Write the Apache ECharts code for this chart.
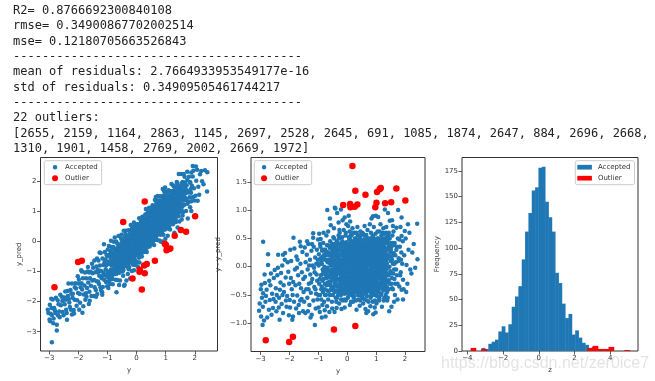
<!DOCTYPE html>
<html><head><meta charset="utf-8">
<script src="https://cdn.jsdelivr.net/npm/echarts@6/dist/echarts.min.js"></script>
<style>html,body{margin:0;padding:0;background:#fff}#c{width:655px;height:381px}</style>
</head><body><div id="c"></div>
<script>
const textLines = [
  'R2= 0.8766692300840108',
  'rmse= 0.34900867702002514',
  'mse= 0.12180705663526843',
  '----------------------------------------',
  'mean of residuals: 2.7664933953549177e-16',
  'std of residuals: 0.34909505461744217',
  '----------------------------------------',
  '22 outliers:',
  '[2655, 2159, 1164, 2863, 1145, 2697, 2528, 2645, 691, 1085, 1874, 2647, 884, 2696, 2668,',
  '1310, 1901, 1458, 2769, 2002, 2669, 1972]'
];

// accepted points: [y, y - y_pred]
const accepted = [
[-3.05,-0.78],[-2.93,-1.03],[-3.03,-0.65],[-2.91,-0.47],[-2.97,-0.32],[-2.85,-0.29],[-2.74,0.03],[-2.51,-0.06],[-2.54,-0.2],[-2.68,-0.59],[-2.57,-0.73],[-2.62,-0.85],[-2.91,0.44],[-2.74,0.22],[-2.98,-0.88],[-2.88,-0.95],[-2.95,-0.55],[-2.83,-0.62],[-2.79,-0.41],[-2.71,-0.76],[-2.66,-0.33],[-2.6,-0.48],[-2.86,-0.14],[-2.77,-0.9],[-2.92,-0.71],[-2.64,-0.12],[-2.55,-0.57],[-2.99,-0.4],[-2.81,-0.52],[-2.7,-0.25],
[-2.45,-0.79],[-2.34,-0.94],[-2.22,-0.82],[-2.1,-0.71],[-2.22,0.21],[-2.16,0.12],[-2.39,0.21],[-2.15,0.24],[-2.47,-0.38],[-2.42,-0.15],[-2.36,-0.55],[-2.31,-0.28],[-2.27,-0.66],[-2.25,0.02],[-2.19,-0.45],[-2.13,-0.19],[-2.08,-0.52],[-2.04,-0.09],[-2.02,-0.86],[-2.48,-0.62],[-2.4,-0.02],[-2.33,-0.41],[-2.29,-0.11],[-2.2,-0.33],[-2.12,-0.6],[-2.06,0.08],[-2.44,-0.5],[-2.37,-0.72],[-2.24,-0.5],[-2.01,-0.3],
[-1.99,-0.59],[-1.88,-0.88],[-1.9,-0.94],[-1.67,-0.82],[-1.53,-0.79],[-1.86,0.51],[-1.64,0.44],[-1.97,0.3],[-1.95,-0.2],[-1.92,-0.4],[-1.84,-0.62],[-1.81,-0.05],[-1.79,-0.33],[-1.76,0.18],[-1.73,-0.51],[-1.7,-0.15],[-1.68,-0.68],[-1.62,0.05],[-1.6,-0.38],[-1.58,-0.57],[-1.55,0.26],[-1.52,-0.22],[-1.98,-0.72],[-1.94,0.1],[-1.87,-0.27],[-1.83,0.32],[-1.77,-0.74],[-1.74,-0.02],[-1.66,-0.3],[-1.61,0.36],[-1.57,-0.1],[-1.51,-0.45],[-1.89,-0.5],[-1.72,0.12],[-1.63,-0.6],
[-1.47,0.34],[-1.36,-0.79],[-1.18,0.51],[-1.18,0.59],[-1.12,-1.03],[-1.01,0.48],[-1.49,-0.62],[-1.46,-0.18],[-1.44,0.08],[-1.42,-0.4],[-1.4,0.21],[-1.38,-0.55],[-1.37,-0.05],[-1.35,0.4],[-1.33,-0.3],[-1.31,-0.68],[-1.29,0.12],[-1.28,-0.14],[-1.26,-0.46],[-1.24,0.28],[-1.23,-0.85],[-1.21,-0.22],[-1.2,0.02],[-1.17,-0.6],[-1.16,0.35],[-1.14,-0.36],[-1.13,-0.1],[-1.11,0.16],[-1.09,-0.74],[-1.08,-0.48],[-1.07,0.05],[-1.05,0.3],[-1.04,-0.25],[-1.03,-0.58],[-1.02,0.12],[-1.45,-0.82],[-1.39,0.45],[-1.32,0.02],[-1.27,-0.9],[-1.22,0.4],[-1.15,-0.02],[-1.1,-0.4],[-1.06,-0.14],[-1.34,-0.4],[-1.25,-0.28],
[-0.92,0.49],[-0.69,1.0],[-0.6,0.85],[-0.57,0.73],[-0.99,-0.72],[-0.95,-0.8],[-0.86,-0.68],[-0.78,-0.77],[-0.7,-0.7],[-0.62,-0.8],[-0.52,-0.74],[-0.98,0.22],[-0.97,-0.3],[-0.96,0.05],[-0.94,-0.5],[-0.93,0.35],[-0.91,-0.15],[-0.9,-0.58],[-0.89,0.1],[-0.88,-0.35],[-0.87,0.28],[-0.85,-0.05],[-0.84,-0.45],[-0.83,0.42],[-0.82,-0.22],[-0.81,0.15],[-0.8,-0.62],[-0.79,0.0],[-0.77,-0.3],[-0.76,0.3],[-0.75,-0.12],[-0.74,-0.5],[-0.73,0.2],[-0.72,0.55],[-0.71,-0.2],[-0.69,-0.42],[-0.68,0.08],[-0.67,0.38],[-0.66,-0.58],[-0.65,-0.08],[-0.64,0.25],[-0.63,-0.32],[-0.61,0.12],[-0.6,-0.5],[-0.59,0.45],[-0.58,-0.18],[-0.56,0.02],[-0.55,-0.38],[-0.54,0.32],[-0.53,-0.62],[-0.52,0.18],[-0.51,-0.1],[-0.97,0.58],[-0.88,-0.9],[-0.82,0.6],[-0.75,-0.88],[-0.66,0.62],[-0.6,-0.26],[-0.57,0.1],[-0.55,-0.05],
[-0.43,1.04],[-0.35,0.95],[-0.41,1.03],[-0.22,1.01],[-0.09,0.87],[-0.03,0.75],[-0.37,-0.73],[-0.2,-0.75],[-0.09,-0.72],[-0.3,0.78],[-0.16,0.82],[-0.12,0.65],[-0.26,0.6],[-0.46,0.68],[-0.44,-0.8],[-0.28,-0.65],[-0.05,-0.6],
[-0.49,0.3],[-0.48,-0.2],[-0.47,0.05],[-0.46,-0.42],[-0.45,0.18],[-0.44,-0.08],[-0.43,0.4],[-0.42,-0.3],[-0.41,0.1],[-0.4,-0.55],[-0.39,0.25],[-0.38,-0.15],[-0.37,0.02],[-0.36,0.45],[-0.35,-0.35],[-0.34,0.15],[-0.33,-0.05],[-0.32,-0.5],[-0.31,0.32],[-0.3,-0.22],[-0.29,0.08],[-0.28,0.5],[-0.27,-0.4],[-0.26,0.2],[-0.25,-0.1],[-0.24,0.38],[-0.23,-0.28],[-0.22,0.0],[-0.21,-0.58],[-0.2,0.28],[-0.19,-0.15],[-0.18,0.12],[-0.17,0.45],[-0.16,-0.42],[-0.15,0.05],[-0.14,-0.25],[-0.13,0.35],[-0.12,-0.05],[-0.11,0.22],[-0.1,-0.48],[-0.09,0.1],[-0.08,-0.18],[-0.07,0.42],[-0.06,-0.32],[-0.05,0.15],[-0.04,-0.08],[-0.03,0.3],[-0.02,-0.4],[-0.01,0.02],[-0.48,0.52],[-0.38,-0.62],[-0.27,0.65],[-0.15,-0.6],[-0.06,0.55],[-0.33,0.22],[-0.24,-0.12],[-0.14,0.18],[-0.04,-0.2],[-0.45,-0.25],[-0.35,0.05],[-0.2,-0.35],[-0.1,0.3],[-0.3,0.4],[-0.17,-0.02],[-0.08,-0.38],
[0.03,0.72],[0.05,0.9],[0.08,0.62],[0.12,0.55],[0.1,0.8],[0.18,0.68],[0.25,0.6],[0.35,0.7],[0.45,0.62],[0.09,-0.68],[0.43,-0.69],[0.32,-0.76],[0.2,-0.62],[0.38,-0.58],[0.02,-0.55],[0.48,-0.52],
[0.0,0.2],[0.01,-0.3],[0.02,0.05],[0.03,-0.12],[0.04,0.4],[0.05,-0.45],[0.06,0.15],[0.07,-0.2],[0.08,0.3],[0.09,-0.02],[0.1,0.48],[0.11,-0.35],[0.12,0.1],[0.13,-0.15],[0.14,0.25],[0.15,-0.5],[0.16,0.02],[0.17,0.38],[0.18,-0.28],[0.19,0.15],[0.2,-0.08],[0.21,0.45],[0.22,-0.4],[0.23,0.2],[0.24,-0.18],[0.25,0.05],[0.26,0.32],[0.27,-0.3],[0.28,0.12],[0.29,-0.05],[0.3,0.5],[0.31,-0.45],[0.32,0.22],[0.33,-0.15],[0.34,0.0],[0.35,0.35],[0.36,-0.25],[0.37,0.1],[0.38,-0.38],[0.39,0.28],[0.4,-0.1],[0.41,0.42],[0.42,-0.2],[0.43,0.05],[0.44,-0.32],[0.45,0.18],[0.46,-0.02],[0.47,0.38],[0.48,-0.42],[0.49,0.12],
[0.02,0.33],[0.04,-0.22],[0.06,-0.05],[0.08,-0.38],[0.1,0.12],[0.12,-0.25],[0.14,0.02],[0.16,0.28],[0.18,-0.12],[0.2,0.35],[0.22,0.0],[0.24,0.42],[0.26,-0.22],[0.28,-0.45],[0.3,0.18],[0.32,-0.05],[0.34,0.28],[0.36,0.08],[0.38,0.45],[0.4,-0.3],[0.42,0.25],[0.44,0.1],[0.46,-0.22],[0.48,0.28],[0.5,0.0],
[0.01,0.1],[0.05,0.25],[0.09,-0.15],[0.13,0.38],[0.17,-0.4],[0.21,0.08],[0.25,-0.32],[0.29,0.25],[0.33,0.42],[0.37,-0.08],[0.41,0.02],[0.45,-0.15],[0.49,0.4],[0.07,0.48],[0.15,0.55],[0.23,-0.52],[0.31,0.6],[0.39,-0.5],[0.47,0.55],[0.03,-0.42],
[0.63,-0.75],[0.72,-0.79],[0.55,-0.65],[0.68,-0.6],[0.8,-0.7],[0.88,-0.62],[0.95,-0.72],[0.84,0.85],[0.89,0.89],[0.99,0.9],[0.6,0.72],[0.7,0.65],[0.78,0.75],[0.92,0.7],[0.55,0.58],[0.66,-0.82],[0.9,-0.84],
[0.5,0.3],[0.51,-0.35],[0.52,0.12],[0.53,-0.1],[0.54,0.45],[0.55,-0.25],[0.56,0.05],[0.57,0.3],[0.58,-0.45],[0.59,0.18],[0.6,-0.05],[0.61,0.4],[0.62,-0.3],[0.63,0.1],[0.64,-0.15],[0.65,0.28],[0.66,-0.5],[0.67,0.0],[0.68,0.5],[0.69,-0.2],[0.7,0.2],[0.71,-0.38],[0.72,0.08],[0.73,0.35],[0.74,-0.1],[0.75,0.15],[0.76,-0.42],[0.77,0.45],[0.78,-0.25],[0.79,0.05],[0.8,0.3],[0.81,-0.05],[0.82,-0.52],[0.83,0.22],[0.84,-0.18],[0.85,0.42],[0.86,-0.35],[0.87,0.1],[0.88,0.55],[0.89,-0.08],[0.9,0.25],[0.91,-0.45],[0.92,0.0],[0.93,0.38],[0.94,-0.22],[0.95,0.15],[0.96,-0.1],[0.97,0.48],[0.98,-0.35],[0.99,0.05],
[0.5,-0.15],[0.52,0.4],[0.54,-0.02],[0.56,-0.38],[0.58,0.22],[0.6,0.55],[0.62,-0.12],[0.64,0.35],[0.66,0.15],[0.68,-0.3],[0.7,-0.08],[0.72,0.42],[0.74,0.25],[0.76,-0.2],[0.78,0.1],[0.8,-0.35],[0.82,0.38],[0.84,0.05],[0.86,-0.15],[0.88,0.3],[0.9,-0.25],[0.92,0.48],[0.94,0.08],[0.96,0.32],[0.98,-0.02],
[0.51,0.05],[0.55,0.2],[0.59,-0.28],[0.63,0.48],[0.67,-0.4],[0.71,0.3],[0.75,-0.3],[0.79,0.5],[0.83,-0.45],[0.87,0.45],[0.91,0.12],[0.95,-0.5],[0.99,0.3],[0.53,-0.55],[0.61,0.18],[0.69,0.1],[0.77,0.02],[0.85,0.2],[0.93,-0.12],[0.97,0.2],
[1.07,0.88],[1.3,1.01],[1.41,0.95],[1.47,0.81],[1.2,-0.71],[1.01,-0.65],[0.98,-0.81],[1.45,-0.79],[1.15,0.75],[1.25,0.68],[1.35,0.7],[1.1,-0.6],[1.38,-0.6],[1.28,-0.55],[1.05,0.62],
[1.0,0.15],[1.01,-0.3],[1.02,0.4],[1.03,-0.05],[1.04,0.25],[1.05,-0.45],[1.06,0.1],[1.07,0.5],[1.08,-0.2],[1.09,0.32],[1.1,0.0],[1.11,-0.38],[1.12,0.45],[1.13,0.12],[1.14,-0.12],[1.15,0.28],[1.16,-0.5],[1.17,0.05],[1.18,0.55],[1.19,-0.25],[1.2,0.2],[1.21,0.38],[1.22,-0.08],[1.23,-0.4],[1.24,0.3],[1.25,0.1],[1.26,-0.2],[1.27,0.5],[1.28,0.0],[1.29,0.25],[1.3,-0.35],[1.31,0.42],[1.32,-0.1],[1.33,0.15],[1.34,0.6],[1.35,-0.25],[1.36,0.32],[1.37,0.05],[1.38,-0.45],[1.39,0.48],[1.4,0.2],[1.42,-0.15],[1.44,0.38],[1.46,0.0],[1.48,-0.3],[1.49,0.25],
[1.02,-0.15],[1.06,0.35],[1.1,0.22],[1.14,-0.3],[1.18,0.15],[1.22,0.6],[1.26,0.35],[1.3,0.12],[1.34,-0.05],[1.38,0.3],[1.42,0.55],[1.46,0.4],
[1.58,0.72],[1.7,0.69],[1.88,0.87],[1.76,1.0],[1.99,0.63],[1.88,0.54],[1.93,-0.23],[1.93,-0.58],[1.88,-0.41],[1.74,-0.58],[1.53,-0.71],[1.5,0.1],[1.52,0.35],[1.54,-0.2],[1.56,0.55],[1.58,-0.4],[1.6,0.2],[1.62,-0.05],[1.64,0.42],[1.66,-0.3],[1.68,0.08],[1.7,0.3],[1.72,-0.15],[1.75,0.5],[1.78,0.15],[1.8,-0.35],[1.82,0.35],[1.85,-0.1],[1.87,0.25],[1.9,0.05],[1.92,0.45],[1.95,-0.4],[1.97,0.2],[1.6,0.62],[1.65,-0.5],[1.55,0.82],[1.84,0.7],[1.62,-0.62],
[2.42,0.76],[2.22,-0.12],[2.43,0.13],[2.05,0.03],[2.02,0.5],[2.08,-0.3],[2.12,0.3],[2.15,0.6],[2.18,-0.05],[2.25,0.25],[2.3,0.4],[2.04,-0.45],[2.1,0.75],[2.35,-0.02],
[-0.88,0.05],[-0.86,-0.25],[-0.84,0.18],[-0.82,-0.08],[-0.8,0.3],[-0.78,-0.4],[-0.76,0.12],[-0.74,-0.15],[-0.72,-0.33],[-0.7,0.26],[-0.68,-0.02],[-0.66,0.2],[-0.64,-0.44],[-0.62,0.07],[-0.6,0.33],[-0.58,-0.3],[-0.56,0.22],[-0.54,-0.12],[-0.52,0.4],[-0.5,-0.36],[-0.48,0.1],[-0.46,0.28],[-0.44,-0.18],[-0.42,0.02],[-0.4,0.36],[-0.38,-0.42],[-0.36,0.16],[-0.34,-0.22],[-0.32,0.06],[-0.3,0.3],[-0.28,-0.1],[-0.26,-0.46],[-0.24,0.2],[-0.22,-0.2],[-0.2,0.42],[-0.18,-0.3],[-0.16,0.1],[-0.14,-0.08],[-0.12,0.28],[-0.1,-0.38],[-0.08,0.2],[-0.06,0.0],[-0.04,-0.46],[-0.02,0.38],[-0.65,-0.18],[-0.45,-0.05],[-0.25,0.08],[-0.05,-0.25],
[0.005,-0.18],[0.015,0.26],[0.025,-0.36],[0.035,0.08],[0.045,-0.06],[0.055,0.35],[0.065,-0.28],[0.075,0.18],[0.085,-0.48],[0.095,0.02],[0.105,0.3],[0.115,-0.1],[0.125,-0.4],[0.135,0.12],[0.145,0.42],[0.155,-0.22],[0.165,0.06],[0.175,-0.34],[0.185,0.3],[0.195,-0.02],[0.205,0.2],[0.215,-0.26],[0.225,0.38],[0.235,-0.44],[0.245,0.1],[0.255,-0.14],[0.265,0.24],[0.275,0.0],[0.285,-0.36],[0.295,0.4],[0.305,-0.2],[0.315,0.08],[0.325,-0.3],[0.335,0.16],[0.345,-0.08],[0.355,0.46],[0.365,-0.4],[0.375,0.22],[0.385,0.02],[0.395,-0.24],[0.405,0.32],[0.415,-0.12],[0.425,0.12],[0.435,-0.48],[0.445,0.4],[0.455,-0.32],[0.465,0.06],[0.475,0.2],[0.485,-0.16],[0.495,-0.02],
[0.505,0.42],[0.515,-0.26],[0.525,0.24],[0.535,-0.42],[0.545,0.08],[0.555,0.34],[0.565,-0.16],[0.575,0.14],[0.585,-0.04],[0.595,-0.36],[0.605,0.26],[0.615,0.02],[0.625,-0.22],[0.635,0.4],[0.645,-0.46],[0.655,0.16],[0.665,-0.1],[0.675,0.3],[0.685,-0.32],[0.695,0.04],[0.705,0.44],[0.715,-0.18],[0.725,0.18],[0.735,-0.4],[0.745,0.36],[0.755,-0.06],[0.765,0.24],[0.775,-0.3],[0.785,0.12],[0.795,-0.14],[0.805,0.46],[0.815,-0.24],[0.825,0.06],[0.835,0.32],[0.845,-0.36],[0.855,0.16],[0.865,-0.02],[0.875,-0.46],[0.885,0.38],[0.895,-0.2],[0.905,0.1],[0.915,0.26],[0.925,-0.3],[0.935,0.0],[0.945,0.42],[0.955,-0.14],[0.965,0.2],[0.975,-0.42],[0.985,0.34],[0.995,-0.08],
[1.005,0.24],[1.015,-0.24],[1.025,0.08],[1.035,0.44],[1.045,-0.36],[1.055,0.16],[1.065,-0.1],[1.075,0.3],[1.085,-0.44],[1.095,0.04],[1.105,0.4],[1.115,-0.18],[1.125,0.22],[1.135,-0.04],[1.145,-0.32],[1.155,0.36],[1.165,0.1],[1.175,-0.22],[1.185,0.28],[1.195,-0.06],
[0.11,0.17],[0.19,-0.19],[0.27,0.36],[0.34,-0.37],[0.41,0.24],[0.48,0.07],[0.56,-0.29],[0.63,0.31],[0.71,-0.07],[0.79,0.21],[0.86,-0.27],[0.94,0.17],[1.02,-0.01],[0.15,-0.03],[0.23,0.13],[0.31,-0.13],[0.38,0.39],[0.46,-0.43],[0.53,0.03],[0.61,-0.11],[0.68,0.21],[0.76,0.41],[0.83,-0.09],[0.91,-0.37],[0.99,0.13],[1.06,-0.21],[0.13,0.33],[0.21,-0.45],[0.29,0.19],[0.37,0.05],[0.44,-0.09],[0.52,-0.47],[0.59,0.09],[0.66,-0.25],[0.74,0.07],[0.81,0.27],[0.89,0.05],[0.96,-0.23],[1.04,0.35],[1.09,-0.11],
[1.205,0.14],[1.215,-0.28],[1.225,0.42],[1.235,-0.02],[1.245,0.2],[1.255,-0.42],[1.265,0.06],[1.275,0.34],[1.285,-0.18],[1.295,0.46],[1.305,-0.06],[1.315,0.18],[1.325,-0.32],[1.335,0.3],[1.345,0.08],[1.355,-0.12],[1.365,0.42],[1.375,-0.36],[1.385,0.14],[1.395,-0.02],[1.41,0.32],[1.43,-0.24],[1.45,0.18],[1.47,0.5],[1.49,-0.08],[1.51,0.3],[1.53,-0.3],[1.55,0.12],[1.57,0.42],[1.59,-0.12],[1.61,0.24],[1.63,0.05],
[-0.597,0.21],[-0.587,-0.33],[-0.577,0.04],[-0.567,-0.14],[-0.557,0.37],[-0.547,-0.41],[-0.537,0.15],[-0.527,-0.07],[-0.517,0.27],[-0.507,-0.24],
[-0.497,0.02],[-0.487,0.34],[-0.477,-0.36],[-0.467,0.11],[-0.457,-0.13],[-0.447,0.25],[-0.437,-0.45],[-0.427,0.19],[-0.417,-0.02],[-0.407,0.39],
[-0.397,-0.27],[-0.387,0.07],[-0.377,-0.19],[-0.367,0.31],[-0.357,-0.43],[-0.347,0.01],[-0.337,0.23],[-0.327,-0.12],[-0.317,0.41],[-0.307,-0.33],
[-0.297,0.15],[-0.287,-0.05],[-0.277,0.29],[-0.267,-0.25],[-0.257,0.05],[-0.247,-0.39],[-0.237,0.21],[-0.227,-0.09],[-0.217,0.35],[-0.207,-0.17],
[-0.197,0.09],[-0.187,-0.47],[-0.177,0.27],[-0.167,0.0],[-0.157,-0.29],[-0.147,0.39],[-0.137,-0.11],[-0.127,0.13],[-0.117,-0.37],[-0.107,0.21],
[-0.097,-0.03],[-0.087,0.31],[-0.077,-0.23],[-0.067,0.07],[-0.057,-0.45],[-0.047,0.25],[-0.037,-0.15],[-0.027,0.43],[-0.017,-0.31],[-0.007,0.13],
[0.007,-0.07],[0.017,0.37],[0.027,-0.23],[0.037,0.19],[0.047,-0.39],[0.057,0.03],[0.067,0.29],[0.077,-0.13],[0.087,0.13],[0.097,-0.29],
[0.107,0.41],[0.117,-0.01],[0.127,0.23],[0.137,-0.43],[0.147,0.09],[0.157,-0.17],[0.167,0.33],[0.177,-0.07],[0.187,0.19],[0.197,-0.35],
[0.207,0.03],[0.217,0.27],[0.227,-0.19],[0.237,0.39],[0.247,-0.27],[0.257,0.15],[0.267,-0.05],[0.277,-0.41],[0.287,0.25],[0.297,0.07],
[0.307,-0.31],[0.317,0.35],[0.327,-0.09],[0.337,0.11],[0.347,-0.23],[0.357,0.21],[0.367,0.01],[0.377,-0.47],[0.387,0.31],[0.397,-0.15],
[0.407,0.13],[0.417,-0.35],[0.427,0.37],[0.437,-0.03],[0.447,0.19],[0.457,-0.19],[0.467,0.43],[0.477,-0.29],[0.487,0.05],[0.497,0.23],
[0.507,-0.11],[0.517,0.31],[0.527,-0.33],[0.537,0.15],[0.547,-0.05],[0.557,-0.43],[0.567,0.27],[0.577,-0.21],[0.587,0.09],[0.597,0.39],
[0.607,-0.37],[0.617,0.19],[0.627,-0.01],[0.637,-0.27],[0.647,0.29],[0.657,0.05],[0.667,-0.15],[0.677,0.41],[0.687,-0.43],[0.697,0.11],
[0.707,-0.23],[0.717,0.25],[0.727,-0.07],[0.737,0.15],[0.747,-0.33],[0.757,0.37],[0.767,-0.13],[0.777,0.03],[0.787,0.23],[0.797,-0.45],
[0.807,0.17],[0.817,-0.03],[0.827,0.33],[0.837,-0.21],[0.847,0.07],[0.857,-0.39],[0.867,0.27],[0.877,-0.09],[0.887,0.13],[0.897,-0.29],
[0.907,0.43],[0.917,-0.17],[0.927,0.09],[0.937,-0.41],[0.947,0.21],[0.957,0.01],[0.967,-0.25],[0.977,0.35],[0.987,-0.13],[0.997,0.17],
[1.007,-0.33],[1.017,0.29],[1.027,-0.09],[1.037,0.11],[1.047,-0.21],[1.057,0.41],[1.067,-0.41],[1.077,0.07],[1.087,0.23],[1.097,-0.15],
[1.107,0.33],[1.117,-0.05],[1.127,-0.29],[1.137,0.19],[1.147,0.05],[1.157,-0.37],[1.167,0.45],[1.177,-0.11],[1.187,0.13],[1.197,-0.23],
[1.207,0.29],[1.217,0.03],[1.227,-0.15],[1.237,0.37],[1.247,-0.33],[1.257,0.21],[1.267,-0.05],[1.277,0.13],[1.287,-0.25],[1.297,0.41],
[1.307,0.07],[1.317,-0.19],[1.327,0.25],[1.337,-0.39],[1.347,0.17],[1.357,-0.01],[1.367,0.31],[1.377,-0.13],[1.387,0.45],[1.397,-0.27],
[-0.45,0.5],[-0.3,0.55],[-0.18,0.52],[-0.05,0.6],[0.06,0.52],[0.16,0.6],[0.27,0.5],[0.36,0.56],[0.44,0.5],[0.52,0.6],[0.58,0.48],[0.66,0.56],[0.74,0.5],[0.82,0.6],[0.9,0.52],[0.98,0.58],[1.04,0.5],[1.12,0.62],[1.2,0.5],[1.28,0.58],[1.36,0.52],[1.44,0.6],
[-0.5,-0.5],[-0.35,-0.55],[-0.22,-0.5],[-0.1,-0.58],[0.04,-0.52],[0.13,-0.62],[0.22,-0.55],[0.3,-0.6],[0.37,-0.5],[0.45,-0.6],[0.52,-0.5],[0.6,-0.58],[0.68,-0.52],[0.74,-0.62],[0.81,-0.55],[0.89,-0.5],[0.96,-0.6],[1.03,-0.52],[1.11,-0.56],[1.18,-0.48],[1.26,-0.6],[1.33,-0.5],[1.4,-0.55],
[-0.99,0.02],[-0.95,-0.22],[-0.92,0.15],[-0.9,-0.4],[-0.86,0.3],[-0.83,-0.12],[-0.79,0.22],[-0.77,-0.5],[-0.73,-0.05],[-0.7,0.38],[-0.68,-0.28],[-0.64,0.12],[-0.62,-0.15],[-1.0,-0.5],[-0.94,0.4],
[1.5,-0.12],[1.52,0.18],[1.55,-0.38],[1.58,0.05],[1.61,0.38],[1.63,-0.22],[1.66,0.2],[1.69,-0.05],[1.72,0.35],[1.74,-0.3],[1.77,0.1],[1.8,0.48],[1.83,-0.15],[1.86,0.12],[1.48,0.42],[1.44,-0.4]
];

// outlier points: [y, y - y_pred]
const outliers = [
[0.18,1.78],[0.28,1.34],[0.63,1.27],[1.03,1.32],[1.16,1.39],[1.70,1.38],[2.01,1.17],
[-0.14,1.09],[0.10,1.11],[0.11,1.05],[0.26,1.06],[0.35,1.10],[0.97,1.05],[1.01,1.13],
[1.31,1.12],[1.52,1.14],[1.12,1.37],
[-2.82,-1.30],[-2.01,-1.33],[-1.88,-1.24],[-0.46,-1.11],[0.28,-1.05]
];

// histogram of z (accepted)
const accStart = -3.19, accWidth = 0.187;
const accCounts = [3,2,7,9,11,19,24,18,26,43,53,63,89,116,134,156,159,178,179,145,130,116,76,66,46,32,36,16,20,13,8,6,3,4];
// histogram of z (outliers)
const outStart = -3.81, outWidth = 0.297;
const outCounts = [3,0,2,0,0,0,0,0,0,0,0,0,0,0,0,0,0,0,0,0,0,0,3,5,2,2,4,0,0,1];

const BLUE = '#1f77b4', RED = '#ff0000', INK = '#333';
const FONT = '"DejaVu Sans", sans-serif';
const minus = v => String(v).replace('-', '\u2212');

function axisCommon(vals, fmt) {
  return {
    axisLine: {show: false, onZero: false},
    splitLine: {show: false},
    axisTick: {show: true, length: 3.5, lineStyle: {color: INK, width: 0.8}, customValues: vals},
    axisLabel: {customValues: vals, formatter: fmt || (v => minus(v)), fontSize: 7, color: INK, fontFamily: FONT, margin: 4},
    nameTextStyle: {fontSize: 7, color: INK, fontFamily: FONT}
  };
}

const grids = [
  {left: 40.5, top: 157.5, width: 177, height: 193.5},
  {left: 251, top: 157.5, width: 174, height: 194},
  {left: 462, top: 157.5, width: 176, height: 193.5}
].map(g => Object.assign(g, {show: true, borderColor: INK, borderWidth: 1, backgroundColor: 'transparent', containLabel: false}));

const xAxes = [
  Object.assign(axisCommon([-3,-2,-1,0,1,2]), {type: 'value', gridIndex: 0, min: -3.3, max: 2.78, name: 'y', nameLocation: 'middle', nameGap: 13}),
  Object.assign(axisCommon([-3,-2,-1,0,1,2]), {type: 'value', gridIndex: 1, min: -3.33, max: 2.69, name: 'y', nameLocation: 'middle', nameGap: 13}),
  Object.assign(axisCommon([-4,-2,0,2,4]), {type: 'value', gridIndex: 2, min: -4.3, max: 5.55, name: 'z', nameLocation: 'middle', nameGap: 13})
];
const yAxes = [
  Object.assign(axisCommon([-3,-2,-1,0,1,2]), {type: 'value', gridIndex: 0, min: -3.64, max: 2.79, name: 'y_pred', nameLocation: 'middle', nameGap: 17}),
  Object.assign(axisCommon([-1,-0.5,0,0.5,1,1.5], v => minus(v.toFixed(1))), {type: 'value', gridIndex: 1, min: -1.5, max: 1.93, name: 'y - y_pred', nameLocation: 'middle', nameGap: 29}),
  Object.assign(axisCommon([0,25,50,75,100,125,150,175]), {type: 'value', gridIndex: 2, min: 0, max: 188, name: 'Frequency', nameLocation: 'middle', nameGap: 20})
];

const histItem = color => (params, api) => {
  const a = api.coord([api.value(0), api.value(2)]);
  const b = api.coord([api.value(1), 0]);
  return {type: 'rect', shape: {x: a[0] - 0.2, y: a[1], width: b[0] - a[0] + 0.4, height: b[1] - a[1]},
    style: {fill: color}};
};
const histData = (start, w, counts) => counts.map((c, i) => [start + i * w, start + (i + 1) * w, c]).filter(d => d[2] > 0);

const legendBase = {
  orient: 'vertical', itemGap: 2, backgroundColor: 'rgba(255,255,255,0.8)',
  borderColor: '#cccccc', borderWidth: 1, borderRadius: 2,
  textStyle: {fontSize: 7, color: INK, fontFamily: FONT, lineHeight: 9},
  selectedMode: false
};

const option = {
  animation: false,
  grid: grids,
  xAxis: xAxes,
  yAxis: yAxes,
  legend: [
    Object.assign({}, legendBase, {left: 44.3, top: 160.7, padding: [2, 4, 2, 7], itemWidth: 6, itemHeight: 6,
      textStyle: Object.assign({}, legendBase.textStyle, {padding: [0, 0, 0, 2]}),
      data: [{name: 'Accepted', icon: 'circle', itemStyle: {color: BLUE, borderColor: '#fff', borderWidth: 1.5}}, {name: 'Outlier', icon: 'circle', itemStyle: {color: RED}}]}),
    Object.assign({}, legendBase, {left: 254.3, top: 160.7, padding: [2, 4, 2, 6], itemWidth: 6, itemHeight: 6,
      textStyle: Object.assign({}, legendBase.textStyle, {padding: [0, 0, 0, 3]}),
      data: [{name: 'Accepted', icon: 'circle', itemStyle: {color: BLUE, borderColor: '#fff', borderWidth: 1.5}}, {name: 'Outlier', icon: 'circle', itemStyle: {color: RED}}]}),
    Object.assign({}, legendBase, {left: 575.3, top: 160.7, padding: [2, 4, 2, 2], itemWidth: 14.6, itemHeight: 4.7,
      textStyle: Object.assign({}, legendBase.textStyle, {padding: [0, 0, 0, 1]}),
      data: [{name: 'Accepted', icon: 'rect', itemStyle: {color: BLUE}}, {name: 'Outlier', icon: 'rect', itemStyle: {color: RED}}]})
  ],
  graphic: textLines.map((t, i) => ({
    type: 'text', left: 13, top: 5 + i * 15.3, silent: true,
    style: {text: t, font: '12px "DejaVu Sans Mono", monospace', fill: '#222'}
  })).concat([{
    type: 'text', left: 441, top: 356, z: 100, silent: true,
    style: {text: 'https://blog.csdn.net/zer0ice7', font: '16px "Liberation Sans", Arial, sans-serif', fill: 'rgba(175,175,175,0.35)'}
  }]),
  series: [
    {type: 'scatter', name: 'Accepted', xAxisIndex: 0, yAxisIndex: 0, symbolSize: 4.5, itemStyle: {color: BLUE, opacity: 1},
      data: accepted.map(p => [p[0], +(p[0] - p[1]).toFixed(3)])},
    {type: 'scatter', name: 'Outlier', xAxisIndex: 0, yAxisIndex: 0, symbolSize: 6.5, itemStyle: {color: RED, opacity: 1},
      data: outliers.map(p => [p[0], +(p[0] - p[1]).toFixed(3)])},
    {type: 'scatter', name: 'Accepted', xAxisIndex: 1, yAxisIndex: 1, symbolSize: 4.5, itemStyle: {color: BLUE, opacity: 1},
      data: accepted},
    {type: 'scatter', name: 'Outlier', xAxisIndex: 1, yAxisIndex: 1, symbolSize: 6.5, itemStyle: {color: RED, opacity: 1},
      data: outliers},
    {type: 'custom', name: 'Accepted', xAxisIndex: 2, yAxisIndex: 2, renderItem: histItem(BLUE),
      encode: {x: [0, 1], y: 2}, data: histData(accStart, accWidth, accCounts)},
    {type: 'custom', name: 'Outlier', xAxisIndex: 2, yAxisIndex: 2, renderItem: histItem(RED),
      encode: {x: [0, 1], y: 2}, data: histData(outStart, outWidth, outCounts)}
  ]
};
const chart = echarts.init(document.getElementById('c'), null, {renderer: 'canvas'});
chart.setOption(option);
</script></body></html>
